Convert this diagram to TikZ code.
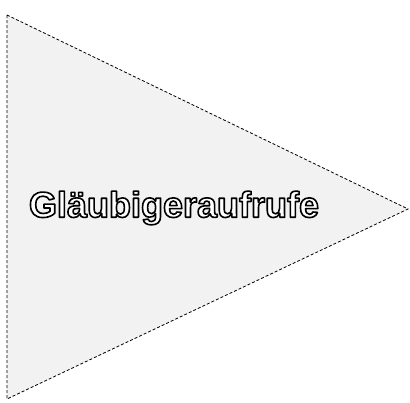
\documentclass[tikz,border=0pt]{standalone}
\usepackage{fontspec}
\setmainfont{Liberation Sans}
\newcommand{\outlinedtext}[1]{{\color{white}\special{pdf:literal direct 0 G 2 Tr 1.6 w 1 j}#1\special{pdf:literal direct 0 Tr 1 w}}}
\begin{document}
\begin{tikzpicture}[x=1pt,y=1pt,
  pennant/.style={draw=black,densely dashed,line width=0.8pt,fill=black!5},
  label/.style={font=\bfseries\fontsize{36}{40}\selectfont,inner sep=0pt}]
\useasboundingbox (0,0) rectangle (410,402);
\coordinate (tl) at (7,387);
\coordinate (bl) at (7,3);
\coordinate (tip) at (408,193);
\path[pennant] (tl) -- (tip) -- (bl) -- cycle;
\node[label] (t) at (174,194) {\outlinedtext{Gläubigeraufrufe}};
\end{tikzpicture}
\end{document}
